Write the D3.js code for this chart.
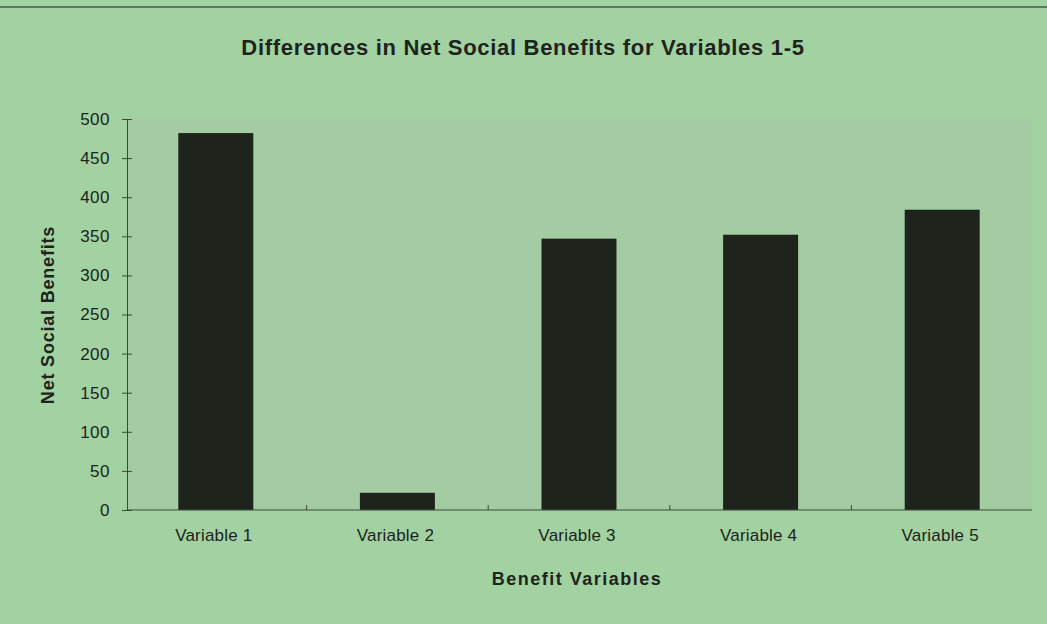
<!DOCTYPE html>
<html><head><meta charset="utf-8">
<script src="https://cdn.jsdelivr.net/npm/d3@7"></script>
<style>body{margin:0;background:#a2d2a2;}svg{display:block;}</style>
</head><body><svg id="c" width="1047" height="624"></svg>
<script>
const categories = ["Variable 1","Variable 2","Variable 3","Variable 4","Variable 5"];
const values = [482, 22, 347, 352, 384];
const yTicks = [0,50,100,150,200,250,300,350,400,450,500];
const title = "Differences in Net Social Benefits for Variables 1-5";
const xTitle = "Benefit Variables";
const yTitle = "Net Social Benefits";

const svg = d3.select("#c");
const W = 1047, H = 624;
const m = {left:127, right:1032, top:119, bottom:510};
svg.append("rect").attr("width",W).attr("height",H).attr("fill","#a2d2a2");
svg.append("line").attr("x1",0).attr("x2",W).attr("y1",7).attr("y2",7).attr("stroke","#4a5a4a").attr("stroke-width",1.5);
svg.append("rect").attr("x",m.left).attr("y",m.top).attr("width",m.right-m.left).attr("height",m.bottom-m.top).attr("fill","#a4cca2");

const xb = d3.scaleBand().domain(categories).range([125,1033]);
const y = d3.scaleLinear().domain([0,500]).range([m.bottom,m.top]);
const bw = 75;

svg.selectAll("rect.bar").data(values).join("rect").attr("class","bar")
  .attr("x",(d,i)=>xb(categories[i])+ (xb.bandwidth()-bw)/2)
  .attr("width",bw)
  .attr("y",d=>y(d)).attr("height",d=>y(0)-y(d)).attr("fill","#1e231c");

const font = "Arial, 'Liberation Sans', sans-serif";
const ya = svg.append("g").attr("transform",`translate(${m.left},0)`)
  .call(d3.axisLeft(y).tickValues(yTicks).tickSize(5).tickSizeOuter(0).tickPadding(12));
ya.selectAll("text").attr("font-family",font).attr("font-size",17).attr("letter-spacing",0.5).attr("fill","#1e231c");
ya.selectAll("line,path").attr("stroke","#3a4a3a");
ya.selectAll(".tick line").attr("x2",5).attr("x1",-5);

const xa = svg.append("g").attr("transform",`translate(0,${m.bottom})`)
  .call(d3.axisBottom(xb).tickSize(0).tickPadding(19));
xa.select("path").attr("stroke","#3a4a3a").attr("d",`M${m.left},0H${m.right}`);
xa.selectAll("text").attr("font-family",font).attr("font-size",17).attr("letter-spacing",0.2).attr("fill","#1e231c")
  .attr("dx",-2);
svg.append("g").selectAll("line").data(categories.slice(1)).join("line")
  .attr("x1",d=>xb(d)).attr("x2",d=>xb(d)).attr("y1",m.bottom-5).attr("y2",m.bottom)
  .attr("stroke","#3a4a3a");

svg.append("text").attr("x",523).attr("y",55).attr("text-anchor","middle")
  .attr("font-family",font).attr("font-weight","bold").attr("font-size",22).attr("letter-spacing",0.7).attr("fill","#1e231c").text(title);
svg.append("text").attr("x",577).attr("y",585).attr("text-anchor","middle")
  .attr("font-family",font).attr("font-weight","bold").attr("font-size",18).attr("letter-spacing",1.5).attr("fill","#1e231c").text(xTitle);
svg.append("text").attr("transform","translate(54,315) rotate(-90)").attr("text-anchor","middle")
  .attr("font-family",font).attr("font-weight","bold").attr("font-size",18).attr("letter-spacing",0.8).attr("fill","#1e231c").text(yTitle);
</script></body></html>
